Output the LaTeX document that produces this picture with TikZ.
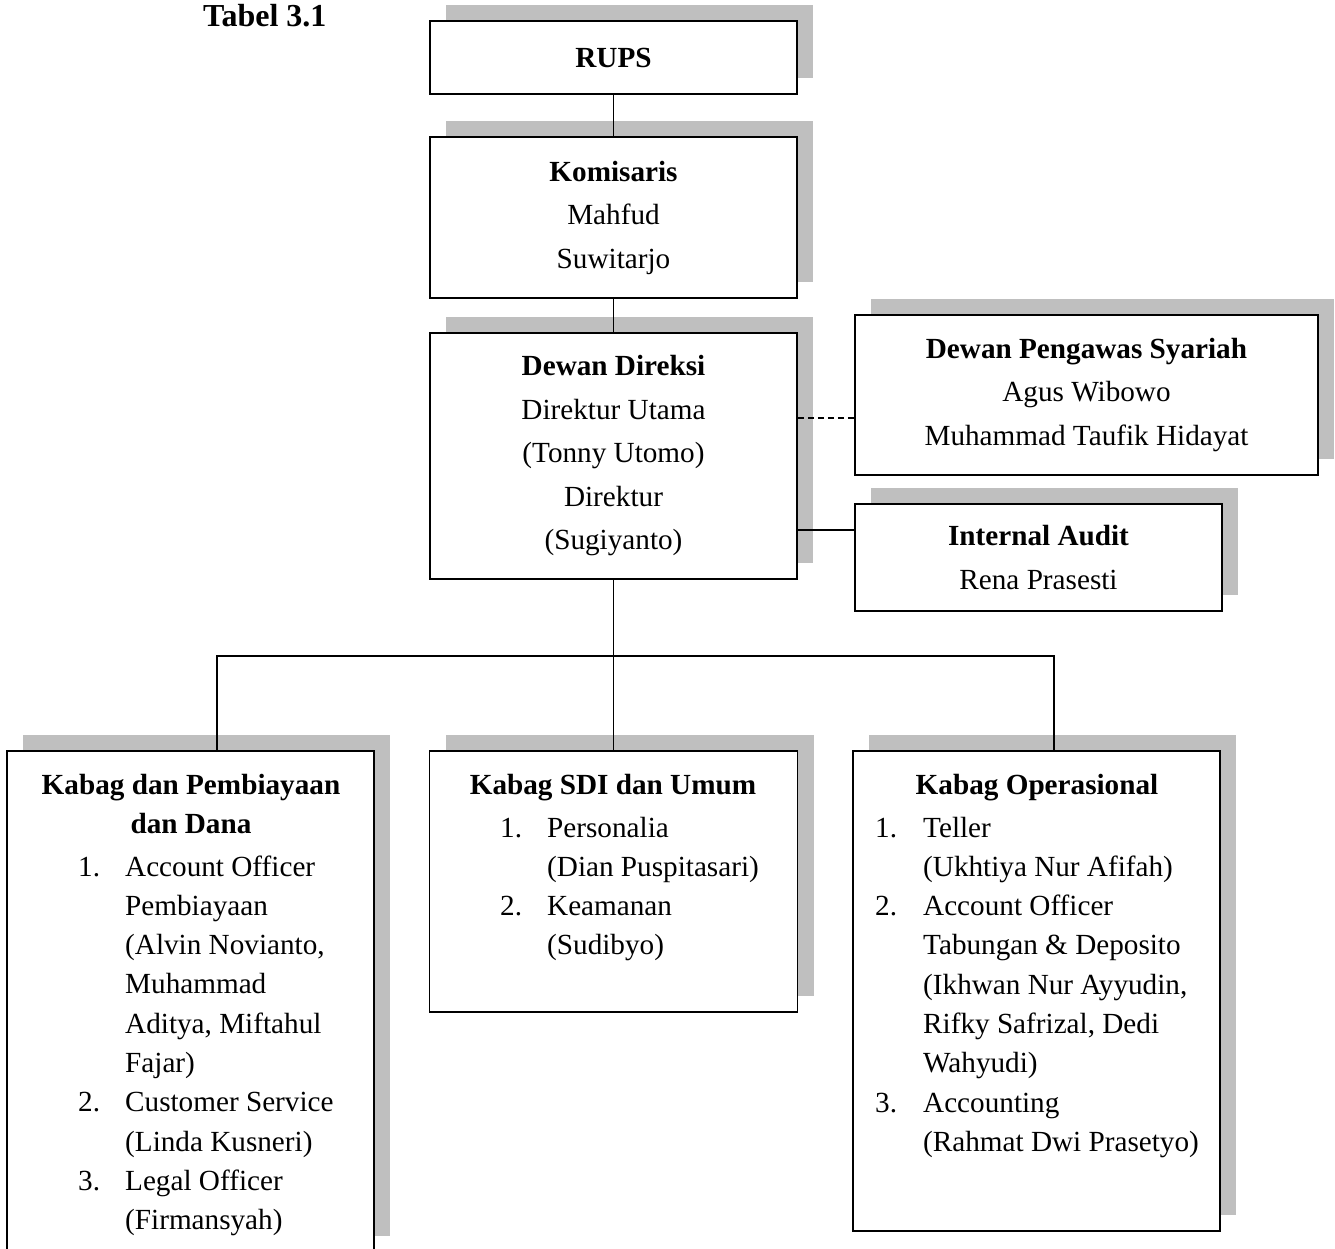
\documentclass[tikz,border=0pt]{standalone}
\usepackage{fontspec}
\setmainfont{Liberation Serif}
\usetikzlibrary{shadows}
\definecolor{shadowgray}{RGB}{191,191,191}
\newcommand{\bodyfont}{\fontsize{29.2}{43.5}\selectfont}
\newcommand{\listfont}{\fontsize{29.2}{39.3}\selectfont}
\tikzset{
  orgbox/.style={draw, line width=1.8pt, fill=white, inner sep=0pt, align=center, font=\bodyfont,
    copy shadow={shadow xshift=16pt, shadow yshift=16pt, draw=none, fill=shadowgray}},
  boxsize/.style 2 args={minimum width=#1pt, minimum height=#2pt},
  head/.style={inner sep=0pt, font=\listfont\bfseries, anchor=base},
  items/.style={inner sep=0pt, font=\listfont, anchor=base west},
  link/.style={line width=1.4pt},
}
\begin{document}
\begin{tikzpicture}[x=1pt, y=-1pt]
\useasboundingbox (0,0) rectangle (1335,1248);
\clip (0,0) rectangle (1335,1248);

\node[inner sep=0pt, anchor=base west, font=\fontsize{32}{40}\selectfont\bfseries] (caption) at (203,26) {Tabel 3.1};

% upper boxes
\node[orgbox, boxsize={367}{73}] (rups) at (613.5,57.5) {\textbf{RUPS}};
\node[orgbox, boxsize={367}{161}] (komisaris) at (613.5,217.5)
  {\textbf{Komisaris}\\Mahfud\\Suwitarjo};
\node[orgbox, boxsize={367}{246}] (direksi) at (613.5,456)
  {\textbf{Dewan Direksi}\\Direktur Utama\\(Tonny Utomo)\\Direktur\\(Sugiyanto)};
\node[orgbox, boxsize={463}{160}] (dps) at (1086.5,395)
  {\textbf{Dewan Pengawas Syariah}\\Agus Wibowo\\Muhammad Taufik Hidayat};
\node[orgbox, boxsize={367}{107}] (audit) at (1038.5,557.5)
  {\textbf{Internal Audit}\\Rena Prasesti};

% lower boxes
\node[orgbox, boxsize={367}{501}] (pembiayaan) at (190.5,1001.5) {};
\node[orgbox, boxsize={368}{261}] (sdi) at (613.5,881.5) {};
\node[orgbox, boxsize={367}{480}] (operasional) at (1036.5,991) {};

\node[head] (pembiayaanHead) at (191,794)
  {\begin{tabular}[t]{@{}c@{}}Kabag dan Pembiayaan\\dan Dana\end{tabular}};
\node[items] (pembiayaanList) at (78,876)
  {\begin{tabular}[t]{@{}p{47pt}@{}l@{}}
    1. & Account Officer\\
       & Pembiayaan\\
       & (Alvin Novianto,\\
       & Muhammad\\
       & Aditya, Miftahul\\
       & Fajar)\\
    2. & Customer Service\\
       & (Linda Kusneri)\\
    3. & Legal Officer\\
       & (Firmansyah)
  \end{tabular}};

\node[head] (sdiHead) at (613,794) {Kabag SDI dan Umum};
\node[items] (sdiList) at (500,837)
  {\begin{tabular}[t]{@{}p{47pt}@{}l@{}}
    1. & Personalia\\
       & (Dian Puspitasari)\\
    2. & Keamanan\\
       & (Sudibyo)
  \end{tabular}};

\node[head] (operasionalHead) at (1037,794) {Kabag Operasional};
\node[items] (operasionalList) at (875,837)
  {\begin{tabular}[t]{@{}p{48pt}@{}l@{}}
    1. & Teller\\
       & (Ukhtiya Nur Afifah)\\
    2. & Account Officer\\
       & Tabungan \& Deposito\\
       & (Ikhwan Nur Ayyudin,\\
       & Rifky Safrizal, Dedi\\
       & Wahyudi)\\
    3. & Accounting\\
       & (Rahmat Dwi Prasetyo)
  \end{tabular}};

% connectors
\coordinate (dpsJoin) at (0,418);
\coordinate (auditJoin) at (0,530);
\coordinate (barLeft) at (217,656);
\coordinate (barRight) at (1054,656);
\draw[link] (rups.south) -- (komisaris.north);
\draw[link] (komisaris.south) -- (direksi.north);
\draw[link] (direksi.south) -- (sdi.north);
\draw[link] (pembiayaan.north -| barLeft) -- (barLeft) -- (barRight) -- (operasional.north -| barRight);
\draw[link, dash pattern=on 6pt off 4pt] (direksi.east |- dpsJoin) -- (dps.west |- dpsJoin);
\draw[link] (direksi.east |- auditJoin) -- (audit.west |- auditJoin);
\end{tikzpicture}
\end{document}
